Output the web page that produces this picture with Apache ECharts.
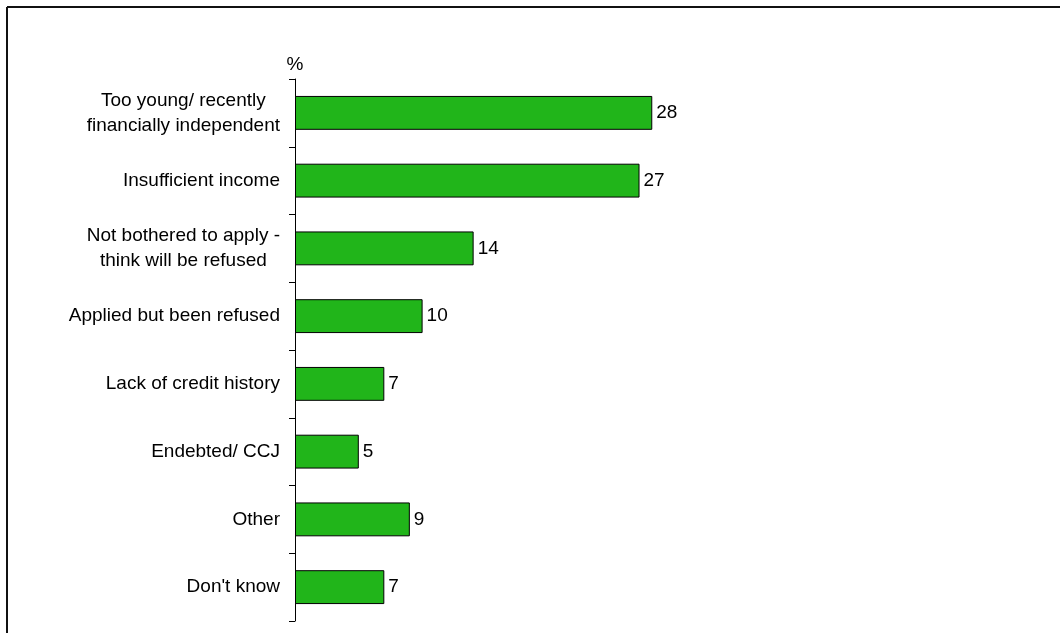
<!DOCTYPE html>
<html>
<head>
<meta charset="utf-8">
<script src="https://cdn.jsdelivr.net/npm/echarts@6/dist/echarts.min.js"></script>
<style>
  html, body { margin: 0; padding: 0; background: #fff; }
  #chart { width: 1060px; height: 633px; }
</style>
</head>
<body>
<div id="chart"></div>
<script>
// Reasons for not having a credit card (%)
const categories = [
  'Too young/ recently\nfinancially independent',
  'Insufficient income',
  'Not bothered to apply -\nthink will be refused',
  'Applied but been refused',
  'Lack of credit history',
  'Endebted/ CCJ',
  'Other',
  "Don't know"
];
const values = [28, 27, 14, 10, 7, 5, 9, 7];
const unitLabel = '%';

const font = 'Arial, "Liberation Sans", sans-serif';
const fs = 19;

const chart = echarts.init(document.getElementById('chart'));
chart.setOption({
  animation: false,
  backgroundColor: '#fff',
  grid: { left: 295, top: 79, width: 638, bottom: 12 },
  xAxis: {
    type: 'value',
    min: 0,
    max: 50,
    show: false
  },
  yAxis: {
    type: 'category',
    data: categories,
    inverse: true,
    name: unitLabel,
    nameLocation: 'start',
    nameGap: 5,
    nameTextStyle: { color: '#000', fontSize: fs, fontFamily: font, align: 'center' },
    axisLine: { show: true, lineStyle: { color: '#000', width: 1 } },
    axisTick: { show: true, inside: false, length: 6, alignWithLabel: false, lineStyle: { color: '#000' } },
    splitLine: { show: false },
    axisLabel: {
      margin: 15,
      color: '#000',
      fontSize: fs,
      fontFamily: font,
      lineHeight: 25,
      formatter: function (v) {
        return v.split('\n').map(function (s) { return '{c|' + s + '}'; }).join('\n');
      },
      rich: {
        c: { align: 'center', fontSize: fs, fontFamily: font, color: '#000', lineHeight: 25 }
      }
    }
  },
  series: [{
    type: 'bar',
    data: values,
    barWidth: '50%',
    itemStyle: { color: '#21B51A', borderColor: '#000', borderWidth: 1 },
    label: {
      show: true,
      position: 'right',
      distance: 4,
      color: '#000',
      fontSize: fs,
      fontFamily: font
    }
  }],
  graphic: [
    { type: 'line', shape: { x1: 7, y1: 7, x2: 1060, y2: 7 }, style: { stroke: '#111', lineWidth: 2 } },
    { type: 'line', shape: { x1: 7, y1: 7, x2: 7, y2: 633 }, style: { stroke: '#111', lineWidth: 2 } }
  ]
});
</script>
</body>
</html>
